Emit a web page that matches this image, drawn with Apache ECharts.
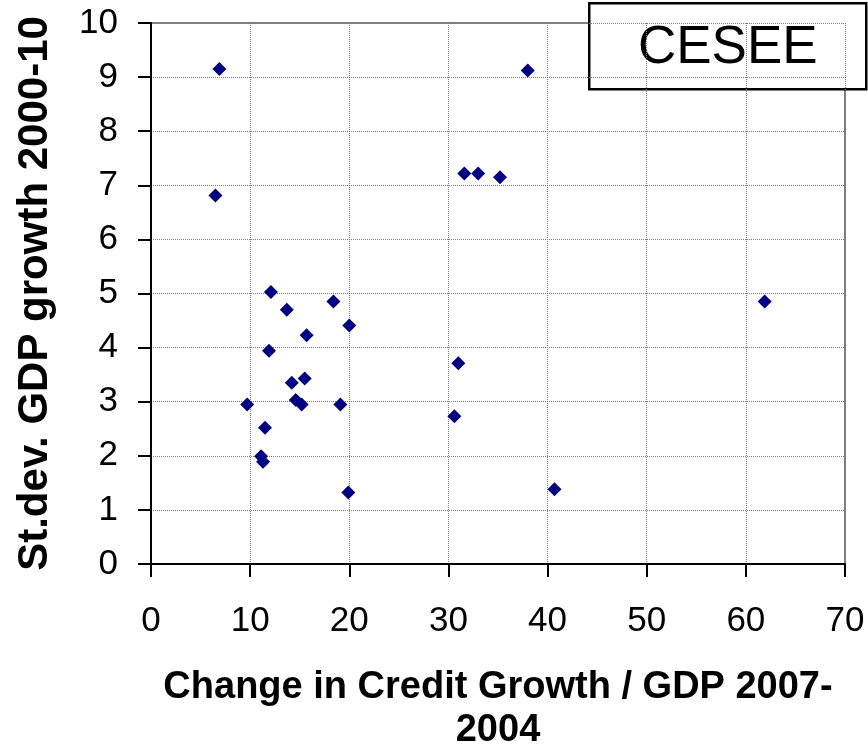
<!DOCTYPE html>
<html>
<head>
<meta charset="utf-8">
<title>CESEE: credit growth vs GDP volatility</title>
<script src="https://cdn.jsdelivr.net/npm/echarts@6/dist/echarts.min.js"></script>
<style>
  html, body { margin: 0; padding: 0; background: #fff; }
  #chart { width: 868px; height: 747px; }
</style>
</head>
<body>
<div id="chart"></div>
<script>
// Change in credit growth / GDP (2007 vs 2004), one value per country
const creditChange = [
  6.9, 6.5, 12.1, 18.4, 13.7, 20.0, 15.7, 11.9, 15.5, 14.2, 14.6, 15.2, 9.7,
  19.1, 11.5, 11.1, 11.3, 19.9, 38.0, 31.6, 33.0, 35.2, 61.9, 31.0, 30.6, 40.7
];
// Standard deviation of GDP growth 2000-10, same country order
const gdpStdDev = [
  9.15, 6.81, 5.03, 4.85, 4.70, 4.41, 4.23, 3.94, 3.43, 3.35, 3.03, 2.95, 2.95,
  2.95, 2.52, 1.99, 1.89, 1.32, 9.12, 7.22, 7.22, 7.15, 4.85, 3.71, 2.73, 1.38
];

const xAxisTitle = 'Change in Credit Growth / GDP 2007-\n2004';
const yAxisTitle = 'St.dev. GDP growth 2000-10';
const regionLabel = 'CESEE';

const FONT = "'Liberation Sans', Arial, sans-serif";

const points = creditChange.map((x, i) => [x, gdpStdDev[i]]);

const chart = echarts.init(document.getElementById('chart'), null, { renderer: 'canvas' });

chart.setOption({
  animation: false,
  backgroundColor: '#ffffff',
  grid: {
    left: 151, right: 23, top: 23, bottom: 183,
    outerBoundsMode: 'none',
    containLabel: false,
    show: true,
    borderColor: '#808080',
    borderWidth: 2,
    backgroundColor: 'transparent'
  },
  xAxis: {
    type: 'value',
    min: 0, max: 70, interval: 10,
    name: xAxisTitle,
    nameLocation: 'middle',
    nameGap: 102,
    nameTextStyle: { fontFamily: FONT, fontSize: 38, fontWeight: 'bold', color: '#000', lineHeight: 43 },
    axisLine: { show: true, onZero: false, lineStyle: { color: '#000', width: 2 } },
    axisTick: { show: true, inside: false, length: 13, lineStyle: { color: '#000', width: 2 } },
    axisLabel: { fontFamily: FONT, fontSize: 35, color: '#000', margin: 40 },
    splitLine: { show: true, lineStyle: { color: '#7a7a7a', type: 'dotted', width: 1 } }
  },
  yAxis: {
    type: 'value',
    min: 0, max: 10, interval: 1,
    name: yAxisTitle,
    nameLocation: 'middle',
    nameGap: 95,
    nameRotate: 90,
    nameTextStyle: { fontFamily: FONT, fontSize: 42, fontWeight: 'bold', color: '#000' },
    axisLine: { show: true, onZero: false, lineStyle: { color: '#000', width: 2 } },
    axisTick: { show: true, inside: false, length: 13, lineStyle: { color: '#000', width: 2 } },
    axisLabel: { fontFamily: FONT, fontSize: 35, color: '#000', margin: 33 },
    splitLine: { show: true, lineStyle: { color: '#7a7a7a', type: 'dotted', width: 1 } }
  },
  series: [{
    type: 'scatter',
    data: points,
    symbol: 'diamond',
    symbolSize: 14,
    itemStyle: { color: '#000080', opacity: 1 },
    z: 5
  }],
  graphic: [{
    type: 'group',
    left: 588,
    top: 2,
    z: 100,
    children: [{
      type: 'rect',
      shape: { x: 0, y: 0, width: 277, height: 86 },
      style: { fill: '#ffffff', stroke: '#000000', lineWidth: 2.5 }
    }, {
      type: 'text',
      x: 138.5,
      y: 45,
      style: {
        text: regionLabel,
        fontFamily: FONT,
        fontSize: 53,
        fill: '#000000',
        align: 'center',
        verticalAlign: 'middle'
      }
    }]
  }]
});
</script>
</body>
</html>
